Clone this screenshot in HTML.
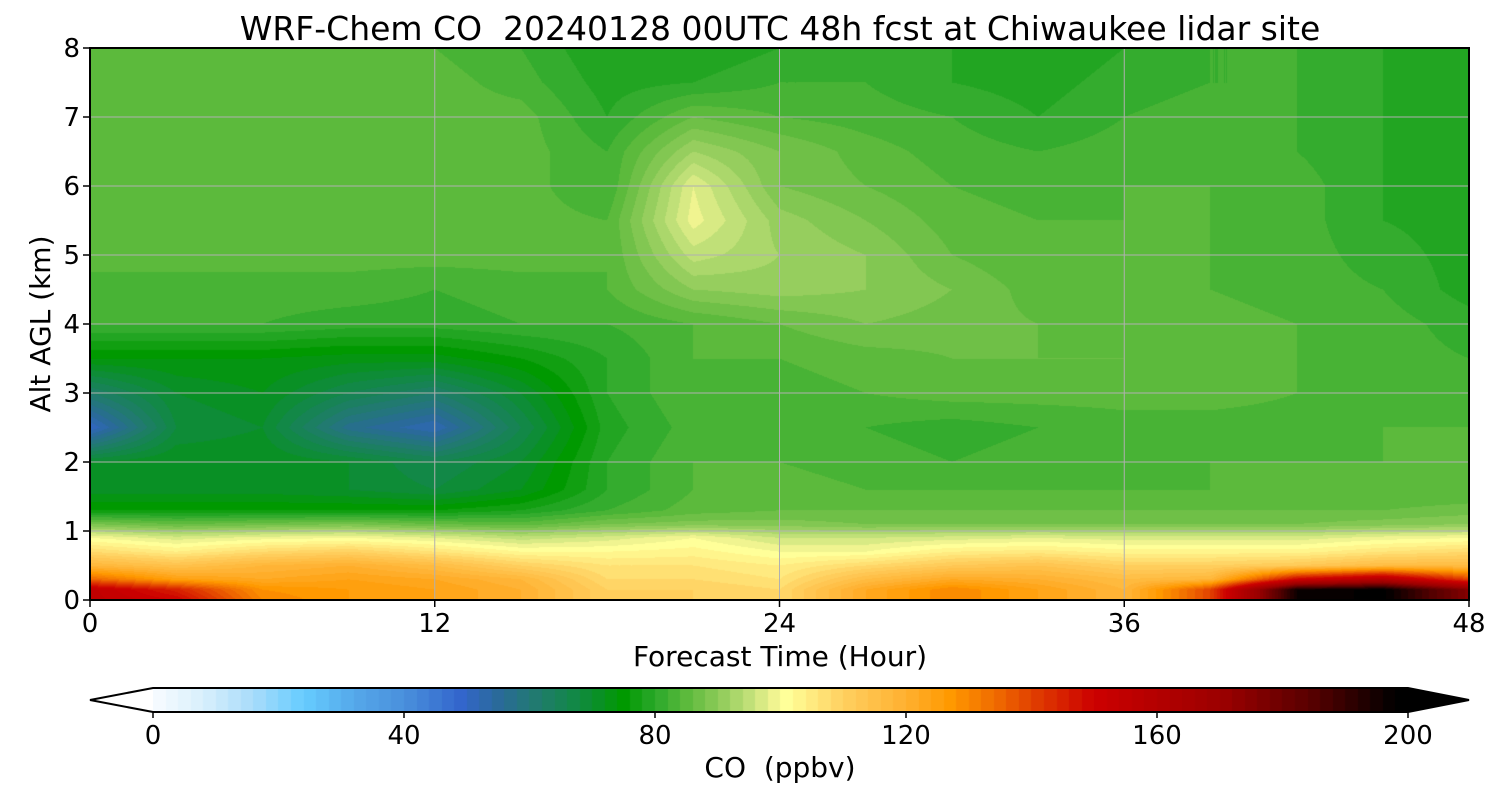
<!DOCTYPE html>
<html><head><meta charset="utf-8"><style>
body{margin:0;background:#fff;width:1500px;height:800px;overflow:hidden;font-family:"DejaVu Sans","Liberation Sans",sans-serif}
#wrap{position:relative;width:1500px;height:800px}
canvas{position:absolute}
svg{position:absolute;left:0;top:0;font-family:"DejaVu Sans","Liberation Sans",sans-serif}
</style></head><body>
<div id="wrap">
<canvas id="field" width="1379" height="552" style="left:90px;top:48px"></canvas>
<canvas id="cbar" width="1255" height="24" style="left:153px;top:688px"></canvas>
<svg id="ov" width="1500" height="800"></svg>
</div>
<script>
const times=[0,3,6,9,12,15,18,21,24,27,30,33,36,39,42,45,48];
const alts=[0,0.15,0.3,0.5,0.7,0.9,1.1,1.3,1.6,2,2.5,3,3.5,4,4.5,5,5.5,6,6.5,7,7.5,8];
const co=[
[155,150,130,126,124,120,110,110,108,122,130,124,118,140,196,199,175],
[155,145,128,126,124,120,110,110,108,122,130,124,118,140,196,199,175],
[135,125,122,124,122,118,108,108,106,116,122,120,116,118,150,160,140],
[118,114,118,120,116,110,106,106,104,108,112,114,110,110,112,116,116],
[108,104,108,110,106,102,102,103,100,100,104,105,103,103,103,106,108],
[100,97,99,100,98,95,97,100,96,96,97,98,97,97,97,99,100],
[88,86,87,88,86,85,88,89,89,88,88,88,88,88,88,89,90],
[76,76,76,76,76,78,82,85,86,86,86,86,86,86,86,86,87],
[71,71,71,70,68,72,80,84,85,84,84,84,84,84,84,84,84],
[70,72,72,70,66,70,80,84,84,83,82,83,83,84,84,84,84],
[50,68,70,57,52,66,79,83,83,82,81,82,83,83,83,84,84],
[62,70,72,66,62,70,80,84,83,84,85,85,85,85,84,84,83],
[74,74,74,73,73,76,80,84,84,85,86,86,86,85,84,83,82],
[82,82,82,81,81,82,82,84,86,88,87,86,85,85,84,83,81],
[83,83,83,83,82,83,84,90,91,90,88,85,84,84,83,82,79],
[85,85,85,85,85,85,84,95,92,90,86,84,84,84,83,81,79],
[85,85,85,85,85,85,84,99,91,88,85,84,84,84,83,80,79],
[85,85,85,85,85,85,82,98,88,86,84,83,84,84,83,80,79],
[85,85,85,85,85,85,82,92,88,85,83,82,83,83,82,80,79],
[84,85,85,85,85,85,80,86,84,83,82,80,82,83,82,80,78],
[84,85,85,85,85,83,79,80,82,82,80,79,81,82,82,80,78],
[84,84,84,84,84,82,78,78,80,80,80,78,80,82,82,80,78]];
const xTicks=[0,12,24,36,48];
const yTicks=[0,1,2,3,4,5,6,7,8];
const cbTicks=[0,40,80,120,160,200];
const stops=[[0,'#f8fbff'],[8,'#d8effc'],[16,'#a8dcfa'],[24,'#66ccff'],[32,'#55a8ea'],[40,'#4a90dc'],[49,'#3366cc'],[55,'#2a6a9a'],[61,'#217a70'],[68,'#108a40'],[75,'#009900'],[80,'#2aa82a'],[85,'#5cba3c'],[90,'#8cca58'],[95,'#c0e078'],[99,'#f0f490'],[101,'#ffff99'],[110,'#ffd060'],[120,'#ffb030'],[127,'#ff9900'],[135,'#ee6600'],[142,'#dd3300'],[150,'#cc0000'],[171,'#990000'],[185,'#550000'],[198,'#000000']];
const L=90,T=48,W=1379,H=552,CB0=153,CBW=1255;
const xs=t=>L+t/48*W, ys=a=>T+H-a/8*H, cbx=v=>CB0+v/200*CBW;
const hex=h=>[1,3,5].map(i=>parseInt(h.substr(i,2),16));
function cmap(v){v=Math.max(0,Math.min(199.9,v));v=Math.floor(v/2)*2+1;
 for(let i=0;i<stops.length-1;i++){if(v<=stops[i+1][0]){const a=hex(stops[i][1]),b=hex(stops[i+1][1]),f=(v-stops[i][0])/(stops[i+1][0]-stops[i][0]);return a.map((c,k)=>Math.round(c+(b[k]-c)*f));}}
 return [0,0,0];}
function idx(arr,v){for(let i=0;i<arr.length-1;i++)if(v<=arr[i+1])return i;return arr.length-2;}
const fc=document.getElementById('field').getContext('2d');const img=fc.createImageData(W,H);
for(let py=0;py<H;py++){const a=(H-py-0.5)/H*8;const j=idx(alts,a);const fa=(a-alts[j])/(alts[j+1]-alts[j]);
 for(let px=0;px<W;px++){const t=(px+0.5)/W*48;const i=idx(times,t);const ft=(t-times[i])/(times[i+1]-times[i]);
  const v=(co[j][i]*(1-ft)+co[j][i+1]*ft)*(1-fa)+(co[j+1][i]*(1-ft)+co[j+1][i+1]*ft)*fa;
  const c=cmap(v);const o=(py*W+px)*4;img.data[o]=c[0];img.data[o+1]=c[1];img.data[o+2]=c[2];img.data[o+3]=255;}}
fc.putImageData(img,0,0);
const cc=document.getElementById('cbar').getContext('2d');
for(let x=0;x<CBW;x++){const c=cmap((x+0.5)/CBW*200);cc.fillStyle=`rgb(${c})`;cc.fillRect(x,0,1,24);}
const ov=document.getElementById('ov');const NS='http://www.w3.org/2000/svg';
function mk(tag,attrs,txt){const e=document.createElementNS(NS,tag);for(const k in attrs)e.setAttribute(k,attrs[k]);if(txt!==undefined)e.textContent=txt;ov.appendChild(e);return e;}
xTicks.forEach(t=>{const g=mk('line',{x1:xs(t),x2:xs(t),y1:T,y2:T+H,stroke:'#b0b0b0','stroke-width':1});


const k=mk('line',{x1:xs(t),x2:xs(t),y1:T+H,y2:T+H+7,stroke:'#000','stroke-width':1.5});


const l=mk('text',{x:xs(t),y:T+H+32,'text-anchor':'middle','font-size':26},t);

});
yTicks.forEach(a=>{const g=mk('line',{x1:L,x2:L+W,y1:ys(a),y2:ys(a),stroke:'#b0b0b0','stroke-width':1});


const k=mk('line',{x1:L-7,x2:L,y1:ys(a),y2:ys(a),stroke:'#000','stroke-width':1.5});


const l=mk('text',{x:L-10,y:ys(a)+9,'text-anchor':'end','font-size':26},a);

});
const fr=mk('rect',{x:L,y:T,width:W,height:H,fill:'none',stroke:'#000','stroke-width':2});


const ti=mk('text',{x:780,y:40,'text-anchor':'middle','font-size':33},'WRF-Chem CO  20240128 00UTC 48h fcst at Chiwaukee lidar site');


ti.style.whiteSpace='pre';
const xl=mk('text',{x:780,y:666,'text-anchor':'middle','font-size':28},'Forecast Time (Hour)');


const yl=mk('text',{x:0,y:0,'text-anchor':'middle','font-size':28,transform:`translate(50,${T+H/2}) rotate(-90)`},'Alt AGL (km)');


const lt=mk('polygon',{points:`${CB0},688 90,700 ${CB0},712`,fill:'#fff',stroke:'none'});


const rt=mk('polygon',{points:`${CB0+CBW},688 1469,700 ${CB0+CBW},712`,fill:'#000'});


const cbo=mk('polygon',{points:`90,700 ${CB0},688 ${CB0+CBW},688 1469,700 ${CB0+CBW},712 ${CB0},712`,fill:'none',stroke:'#000','stroke-width':2});


cbTicks.forEach(v=>{const k=mk('line',{x1:cbx(v),x2:cbx(v),y1:712,y2:718,stroke:'#000','stroke-width':1.5});


const l=mk('text',{x:cbx(v),y:744,'text-anchor':'middle','font-size':26},v);

});
const cl=mk('text',{x:780,y:777,'text-anchor':'middle','font-size':28},'CO  (ppbv)');


cl.style.whiteSpace='pre';
</script>
</body></html>
